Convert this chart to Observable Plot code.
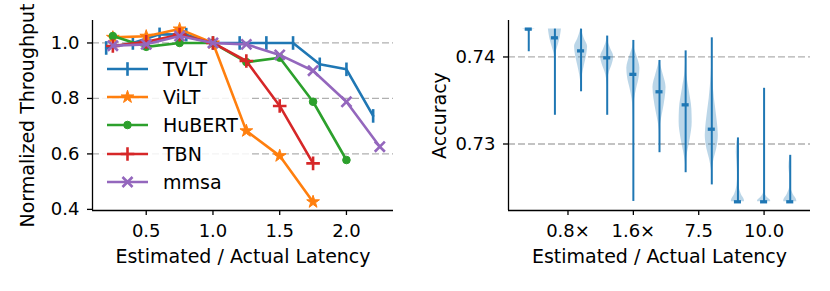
<!DOCTYPE html>
<html><head><meta charset="utf-8">
<script src="https://cdn.jsdelivr.net/npm/d3@7"></script>
<script src="https://cdn.jsdelivr.net/npm/@observablehq/plot@0.6"></script>
<style>
body{margin:0;background:#fff;}
#wrap{position:relative;width:830px;height:291px;font-family:"DejaVu Sans",sans-serif;overflow:hidden;}
#left,#right{position:absolute;top:0;}
#left{left:0;} #right{left:415px;}
svg text{font-family:"DejaVu Sans",sans-serif;}
g[aria-label$="axis label"] text{font-size:19px;}
#legend{position:absolute;left:100px;top:52px;width:152px;padding-top:3px;font-size:19px;color:#000;}
#legend .row{display:flex;align-items:center;height:28.2px;}
#legend svg{flex:none;}
</style></head>
<body>
<div id="wrap"><div id="left"></div><div id="right"></div><div id="legend"></div></div>
<script>
// ---------- Left panel data ----------
const seriesNames = ["TVLT", "ViLT", "HuBERT", "TBN", "mmsa"];
const seriesColors = ["#1f77b4", "#ff7f0e", "#2ca02c", "#d62728", "#9467bd"];
const tvltX = [0.2, 0.4, 0.6, 0.8, 1.0, 1.2, 1.4, 1.6, 1.8, 2.0, 2.2];
const tvltY = [0.982, 1.0, 1.031, 1.03, 1.0, 1.0, 1.0, 1.0, 0.923, 0.905, 0.737];
const vitX = [0.25, 0.5, 0.75, 1.0, 1.25, 1.5, 1.75];
const vitY = [1.02, 1.024, 1.05, 1.0, 0.683, 0.593, 0.427];
const hubertX = [0.25, 0.5, 0.75, 1.0, 1.25, 1.5, 1.75, 2.0];
const hubertY = [1.025, 0.986, 1.0, 1.0, 0.931, 0.947, 0.788, 0.578];
const tbnX = [0.25, 0.5, 0.75, 1.0, 1.25, 1.5, 1.75];
const tbnY = [0.989, 1.004, 1.03, 1.0, 0.935, 0.773, 0.566];
const mmsaX = [0.25, 0.5, 0.75, 1.0, 1.25, 1.5, 1.75, 2.0, 2.25];
const mmsaY = [0.99, 0.995, 1.025, 1.0, 0.995, 0.957, 0.90, 0.788, 0.626];
const thrTicks = [0.4, 0.6, 0.8, 1.0];
const thrGrid = [0.6, 0.8, 1.0];
const latTicksL = [0.5, 1.0, 1.5, 2.0];

// ---------- Right panel data ----------
const violinPos = [1, 2, 3, 4, 5, 6, 7, 8, 9, 10, 11];
const violinMin = [0.7406, 0.7333, 0.7360, 0.7333, 0.7234, 0.7290, 0.7267, 0.7253, 0.72336, 0.72336, 0.72336];
const violinMax = [0.7432, 0.7432, 0.7432, 0.7424, 0.7419, 0.7396, 0.7407, 0.7422, 0.7307, 0.7364, 0.7287];
const violinMed = [0.7432, 0.7422, 0.7407, 0.7399, 0.7380, 0.7360, 0.7345, 0.7317, 0.72336, 0.72336, 0.72336];
// density profiles: [accuracy, relative width]
const violinShape = [
  [[0.7432,1],[0.74305,0.35],[0.7429,0.08],[0.7426,0]],
  [[0.7432,1],[0.7422,0.8],[0.74135,0.5],[0.7406,0.2],[0.7400,0.03],[0.7395,0]],
  [[0.7432,0.05],[0.7429,0.15],[0.7421,0.5],[0.7412,1],[0.7402,0.85],[0.7390,0.5],[0.7379,0.2],[0.7371,0.05],[0.7365,0]],
  [[0.7424,0.02],[0.7419,0.1],[0.7410,0.5],[0.7400,1],[0.7390,0.7],[0.7383,0.35],[0.7375,0.1],[0.7367,0]],
  [[0.7419,0.01],[0.74135,0.05],[0.7402,0.5],[0.7387,1],[0.7377,0.9],[0.73635,0.5],[0.7352,0.2],[0.7340,0.05],[0.7325,0]],
  [[0.7396,0.02],[0.7390,0.2],[0.7379,0.6],[0.7365,1],[0.7352,0.85],[0.73366,0.5],[0.7325,0.2],[0.73155,0.03],[0.7310,0]],
  [[0.7395,0.01],[0.7383,0.1],[0.73635,0.5],[0.7340,0.95],[0.7325,1],[0.73058,0.7],[0.72905,0.3],[0.72789,0.05],[0.7272,0]],
  [[0.7395,0.01],[0.7379,0.1],[0.7352,0.4],[0.7325,0.85],[0.73097,1],[0.72943,0.75],[0.72828,0.35],[0.72712,0.08],[0.7265,0]],
  [[0.7306,0.02],[0.7302,0.15],[0.72905,0.25],[0.72789,0.15],[0.72636,0.05],[0.7252,0.15],[0.72424,0.5],[0.72347,1],[0.72336,1]],
  [[0.7300,0],[0.72558,0.02],[0.72443,0.08],[0.72386,0.5],[0.72347,1],[0.72336,1]],
  [[0.7286,0.02],[0.72828,0.1],[0.72732,0.2],[0.72636,0.08],[0.7252,0.05],[0.72424,0.45],[0.72347,1],[0.72336,1]]
];
const accTicks = [0.73, 0.74];
const latTicksR = [2.5, 5, 7.5, 10];
const latTickLabelsR = ["0.8\u00d7", "1.6\u00d7", "7.5", "10.0"];

// ---------- symbols ----------
const vbar = {draw(c, size){ const r = Math.sqrt(size/Math.PI); c.moveTo(0,-r); c.lineTo(0,r); }};
const plus = {draw(c, size){ const r = Math.sqrt(size/Math.PI); c.moveTo(-r,0); c.lineTo(r,0); c.moveTo(0,-r); c.lineTo(0,r); }};
const times = {draw(c, size){ const r = Math.sqrt(size/Math.PI)*0.72; c.moveTo(-r,-r); c.lineTo(r,r); c.moveTo(-r,r); c.lineTo(r,-r); }};
const symbolSpec = [
  {symbol: vbar, r: 6.8, filled: false},
  {symbol: "star", r: 4.0, filled: true},
  {symbol: "circle", r: 3.8, filled: true},
  {symbol: plus, r: 6.8, filled: false},
  {symbol: times, r: 7.0, filled: false}
];
const seriesXY = [[tvltX,tvltY],[vitX,vitY],[hubertX,hubertY],[tbnX,tbnY],[mmsaX,mmsaY]];

const lw = 2.6;
const baseStyle = {fontFamily: "DejaVu Sans", fontSize: "18px", color: "black", background: "white", overflow: "visible"};

// legend backdrop (layout only): hides gridlines behind the legend, under the data lines
const legendBox = {left: 100, top: 52, width: 152, height: 146};
function legendBackdrop() {
  const r = document.createElementNS("http://www.w3.org/2000/svg", "rect");
  r.setAttribute("x", legendBox.left); r.setAttribute("y", legendBox.top);
  r.setAttribute("width", legendBox.width); r.setAttribute("height", legendBox.height);
  r.setAttribute("fill", "white"); r.setAttribute("fill-opacity", "0.85");
  return r;
}

// ---------- Left plot ----------
const xDomL = [0.0975, 2.3525], yDomL = [0.396, 1.081];
const marksL = [
  Plot.ruleY(thrGrid, {stroke: "#b0b0b0", strokeWidth: 1.3, strokeDasharray: "7,3"}),
  legendBackdrop
];
seriesNames.forEach((name, k) => {
  const [xs, ys] = seriesXY[k];
  const rows = xs.map((x, i) => ({x, y: ys[i]}));
  marksL.push(Plot.line(rows, {x: "x", y: "y", stroke: seriesColors[k], strokeWidth: lw}));
  const sp = symbolSpec[k];
  marksL.push(Plot.dot(rows, {x: "x", y: "y", symbol: sp.symbol, r: sp.r,
    fill: sp.filled ? seriesColors[k] : "none", stroke: seriesColors[k], strokeWidth: sp.filled ? 1 : lw}));
});
marksL.push(
  Plot.ruleX([xDomL[0]], {stroke: "black", strokeWidth: 1.3}),
  Plot.ruleY([yDomL[0]], {stroke: "black", strokeWidth: 1.3}),
  Plot.axisX(latTicksL, {tickSize: 5, tickPadding: 9, tickFormat: d3.format(".1f"), label: "Estimated / Actual Latency", labelAnchor: "center", labelOffset: 52, labelArrow: "none", strokeWidth: 1.3}),
  Plot.axisY(thrTicks, {tickSize: 5, tickPadding: 8, tickFormat: d3.format(".1f"), label: "Normalized Throughput", labelAnchor: "center", labelOffset: 72, labelArrow: "none", strokeWidth: 1.3})
);
const left = Plot.plot({
  width: 415, height: 291, marginLeft: 92, marginRight: 22, marginTop: 20, marginBottom: 81,
  x: {domain: xDomL}, y: {domain: yDomL},
  style: baseStyle,
  marks: marksL
});
document.getElementById("left").append(left);

// ---------- Right plot ----------
const xDomR = [0.225, 11.775], yDomR = [0.72236, 0.74419];
const areaRows = violinShape.flatMap((shape, i) => shape.map(([y, w]) => ({k: i, y, x1: violinPos[i] - 0.25*w, x2: violinPos[i] + 0.25*w})));
const vioRows = violinPos.map((p, i) => ({p, lo: violinMin[i], hi: violinMax[i], med: violinMed[i]}));
const right = Plot.plot({
  width: 415, height: 291, marginLeft: 93, marginRight: 20, marginTop: 20, marginBottom: 81,
  x: {domain: xDomR}, y: {domain: yDomR},
  style: baseStyle,
  marks: [
    Plot.ruleY(accTicks, {stroke: "#b0b0b0", strokeWidth: 1.3, strokeDasharray: "7,3"}),
    Plot.areaX(areaRows, {y: "y", x1: "x1", x2: "x2", z: "k", fill: "#1f77b4", fillOpacity: 0.3, curve: "monotone-y"}),
    Plot.ruleX(vioRows, {x: "p", y1: "lo", y2: "hi", stroke: "#1f77b4", strokeWidth: 2}),
    Plot.ruleY(vioRows, {y: "med", x1: d => d.p - 0.135, x2: d => d.p + 0.135, stroke: "#1f77b4", strokeWidth: 3.3}),
    Plot.ruleX([xDomR[0]], {stroke: "black", strokeWidth: 1.3}),
    Plot.ruleY([yDomR[0]], {stroke: "black", strokeWidth: 1.3}),
    Plot.axisX(latTicksR, {tickSize: 5, tickPadding: 9, tickFormat: d => latTickLabelsR[latTicksR.indexOf(d)], label: "Estimated / Actual Latency", labelAnchor: "center", labelOffset: 52, labelArrow: "none", strokeWidth: 1.3}),
    Plot.axisY(accTicks, {tickSize: 5, tickPadding: 8, tickFormat: d3.format(".2f"), label: "Accuracy", labelAnchor: "center", labelOffset: 76, labelArrow: "none", strokeWidth: 1.3})
  ]
});
document.getElementById("right").append(right);

// ---------- Legend ----------
const leg = d3.select("#legend");
seriesNames.forEach((name, k) => {
  const row = leg.append("div").attr("class", "row");
  const svg = row.append("svg").attr("width", 63).attr("height", 28);
  svg.append("line").attr("x1", 7).attr("x2", 48).attr("y1", 14).attr("y2", 14)
    .attr("stroke", seriesColors[k]).attr("stroke-width", lw);
  const sp = symbolSpec[k];
  const type = typeof sp.symbol === "string" ? (sp.symbol === "star" ? d3.symbolStar : d3.symbolCircle) : sp.symbol;
  svg.append("path").attr("transform", "translate(27.5,14)")
    .attr("d", d3.symbol(type, sp.r*sp.r*Math.PI)())
    .attr("fill", sp.filled ? seriesColors[k] : "none")
    .attr("stroke", seriesColors[k]).attr("stroke-width", sp.filled ? 1 : lw);
  row.append("span").text(name);
});
</script>
</body></html>
